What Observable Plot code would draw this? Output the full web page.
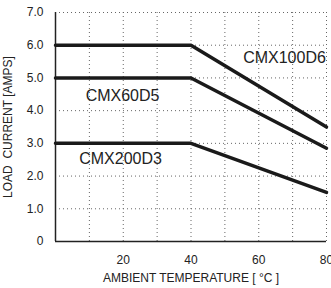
<!DOCTYPE html>
<html>
<head>
<meta charset="utf-8">
<script src="https://cdn.jsdelivr.net/npm/d3@7"></script>
<script src="https://cdn.jsdelivr.net/npm/@observablehq/plot@0.6"></script>
<style>
  html, body { margin: 0; padding: 0; background: #fff; }
  #chart svg { display: block; }
</style>
</head>
<body>
<div id="chart"></div>
<script>
const temps = [0, 40, 80];
const cmx100d6 = [6.0, 6.0, 3.5];
const cmx60d5 = [5.0, 5.0, 2.85];
const cmx200d3 = [3.0, 3.0, 1.5];
const seriesNames = ["CMX100D6", "CMX60D5", "CMX200D3"];
const labelTemps = [67.6, 19.8, 19.2];
const labelCurrents = [5.6, 4.46, 2.54];
const yTicks = [0, 1, 2, 3, 4, 5, 6, 7];
const xTicks = [20, 40, 60, 80];
const xGrid = [10, 20, 30, 40, 50, 60, 70, 80];
const yGrid = [1, 2, 3, 4, 5, 6, 7];

const seriesValues = [cmx100d6, cmx60d5, cmx200d3];
const rows = seriesNames.flatMap((name, i) =>
  temps.map((t, j) => ({series: name, temp: t, current: seriesValues[i][j]})));
const labels = seriesNames.map((name, i) => ({name, temp: labelTemps[i], current: labelCurrents[i]}));

const font = "'Liberation Sans', Arial, sans-serif";

const chart = Plot.plot({
  width: 331,
  height: 288,
  marginLeft: 55,
  marginRight: 5,
  marginTop: 12,
  marginBottom: 47,
  style: {fontFamily: font, fontSize: "12px", color: "#222", background: "#fff"},
  x: {domain: [0, 80]},
  y: {domain: [0, 7]},
  marks: [
    Plot.ruleX(xGrid, {stroke: "#666", strokeDasharray: "1,3", strokeWidth: 1}),
    Plot.ruleY(yGrid, {stroke: "#666", strokeDasharray: "1,3", strokeWidth: 1}),
    Plot.ruleX([0], {stroke: "#222", strokeWidth: 1.5}),
    Plot.ruleY([0], {stroke: "#222", strokeWidth: 1.5}),
    Plot.axisY({
      ticks: yTicks, tickSize: 0, tickPadding: 12,
      tickFormat: d => d === 0 ? "0" : d.toFixed(1),
      label: "LOAD  CURRENT [AMPS]", labelAnchor: "center", labelArrow: "none", labelOffset: 52,
      fontSize: 12
    }),
    Plot.axisX({
      ticks: xTicks, tickSize: 0, tickPadding: 14,
      label: "AMBIENT TEMPERATURE [ °C ]", labelAnchor: "center", labelArrow: "none", labelOffset: 40,
      fontSize: 12
    }),
    Plot.line(rows, {x: "temp", y: "current", z: "series", stroke: "#1a1a1a", strokeWidth: 3.5, strokeLinejoin: "miter"}),
    Plot.text(labels, {x: "temp", y: "current", text: "name", fontSize: 16, fill: "#222"})
  ]
});
document.getElementById("chart").append(chart);
</script>
</body>
</html>
